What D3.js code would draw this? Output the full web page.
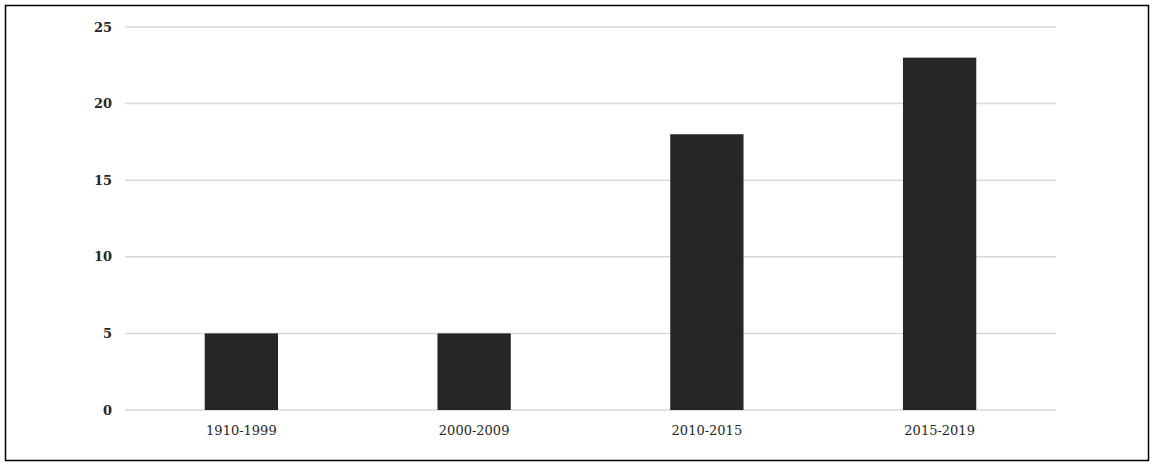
<!DOCTYPE html>
<html>
<head>
<meta charset="utf-8">
<script src="https://cdn.jsdelivr.net/npm/d3@7"></script>
<style>
  body { margin: 0; background: #fff; }
  #chart { width: 1157px; height: 467px; }
</style>
</head>
<body>
<div id="chart"></div>
<script>
var categories = ['1910-1999', '2000-2009', '2010-2015', '2015-2019']
var values = [5, 5, 18, 23]
var yTicks = [0, 5, 10, 15, 20, 25]

var width = 1157
var height = 467
var plotLeft = 125, plotRight = 1056 // plot edges
var plotTop = 27, plotBottom = 410

var svg = d3.select('#chart').append('svg')
  .attr('width', width)
  .attr('height', height)

// outer frame
svg.append('rect')
  .attr('x', 5.5).attr('y', 5.5)
  .attr('width', 1143).attr('height', 455)
  .attr('fill', 'none')
  .attr('stroke', '#000')
  .attr('stroke-width', 1.5)

var x = d3.scaleBand()
  .domain(categories)
  .range([plotLeft, plotRight])
  .paddingInner(0.685)
  .paddingOuter(0.3425)

var y = d3.scaleLinear()
  .domain([0, 25])
  .range([plotBottom, plotTop])

// gridlines
svg.selectAll('line.grid')
  .data(yTicks)
  .enter()
  .append('line')
  .attr('class', 'grid')
  .attr('x1', plotLeft)
  .attr('x2', plotRight)
  .attr('y1', function (d) { return y(d) })
  .attr('y2', function (d) { return y(d) })
  .attr('stroke', '#d9d9d9')
  .attr('stroke-width', 1.5)

// y tick labels
svg.selectAll('text.ylab')
  .data(yTicks)
  .enter()
  .append('text')
  .attr('class', 'ylab')
  .attr('x', 112)
  .attr('y', function (d) { return y(d) })
  .attr('dy', '0.35em')
  .attr('text-anchor', 'end')
  .style('font-family', 'DejaVu Serif')
  .style('font-size', '13px')
  .style('font-weight', '600')
  .style('fill', '#262626')
  .text(function (d) { return d })

// bars
svg.selectAll('rect.bar')
  .data(values)
  .enter()
  .append('rect')
  .attr('class', 'bar')
  .attr('x', function (d, i) { return x(categories[i]) })
  .attr('y', function (d) { return y(d) })
  .attr('width', x.bandwidth())
  .attr('height', function (d) { return y(0) - y(d) })
  .attr('fill', '#262626')

// x labels
svg.selectAll('text.xlab')
  .data(categories)
  .enter()
  .append('text')
  .attr('class', 'xlab')
  .attr('x', function (d) { return x(d) + x.bandwidth() / 2 })
  .attr('y', 435)
  .attr('text-anchor', 'middle')
  .style('font-family', 'DejaVu Serif')
  .style('font-size', '13px')
  .style('fill', '#262626')
  .text(function (d) { return d })
</script>
</body>
</html>
